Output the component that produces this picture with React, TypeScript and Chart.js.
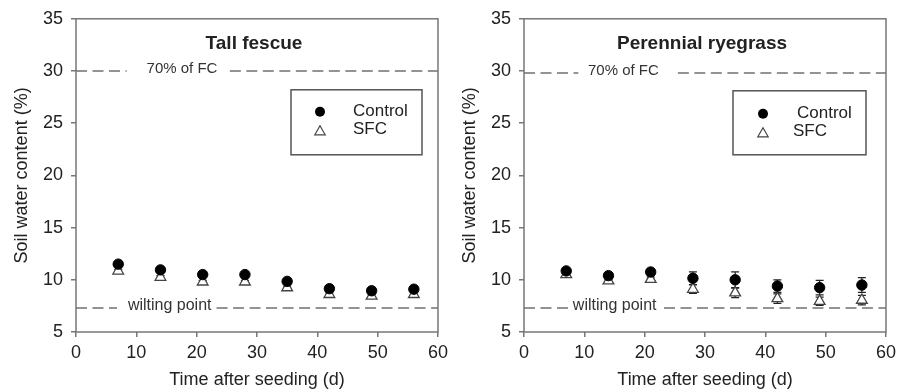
import React, { useEffect, useRef } from "react";
import { Chart, registerables } from "chart.js";

Chart.register(...registerables);

// ---------- data ----------
const days = [7, 14, 21, 28, 35, 42, 49, 56];

const fescueControl = [11.5, 10.95, 10.5, 10.5, 9.85, 9.15, 8.95, 9.1];
const fescueControlErr = [0.25, 0.25, 0.2, 0.2, 0.2, 0.25, 0.2, 0.2];
const fescueSfc = [10.85, 10.25, 9.8, 9.8, 9.25, 8.6, 8.45, 8.6];
const fescueSfcErr = [0.15, 0.15, 0.15, 0.15, 0.15, 0.15, 0.15, 0.15];

const ryeControl = [10.85, 10.4, 10.75, 10.15, 10.0, 9.4, 9.25, 9.5];
const ryeControlErr = [0.15, 0.2, 0.3, 0.6, 0.75, 0.6, 0.7, 0.7];
const ryeSfc = [10.5, 9.9, 10.05, 9.1, 8.75, 8.2, 7.95, 8.05];
const ryeSfcErr = [0.1, 0.15, 0.2, 0.4, 0.45, 0.45, 0.4, 0.45];

const seriesLabels = ["Control", "SFC"];
const panelTitles = ["Tall fescue", "Perennial ryegrass"];
const xTitle = "Time after seeding (d)";
const yTitle = "Soil water content (%)";
const xRange = [0, 60];
const xStep = 10;
const yRange = [5, 35];
const yStep = 5;

const fcLabel = "70% of FC";
const fcLevels = [30, 29.8];
const wpLabel = "wilting point";
const wpLevels = [7.3, 7.3];

// ---------- layout / style per panel ----------
const FONT = "'Liberation Sans', Arial, Helvetica, sans-serif";
const TEXT = "#222";
const AXIS = "#777";

const panels = [
  {
    title: panelTitles[0],
    control: fescueControl,
    controlErr: fescueControlErr,
    sfc: fescueSfc,
    sfcErr: fescueSfcErr,
    left: 0,
    width: 453,
    yAxisWidth: 76,
    padRight: 14,
    yTitlePad: 11,
    titleDx: -3,
    refLines: [
      { value: fcLevels[0], label: fcLabel, gapFrom: 8.4, gapTo: 25.5, labelX: 11.7, size: 15 },
      { value: wpLevels[0], label: wpLabel, gapFrom: 6.8, gapTo: 23.3, labelX: 8.6, size: 16 },
    ],
    legend: { bx: 215, by: 71, bw: 131, bh: 65, mx: 29, tx: [62, 62], ry: [22, 41], ty: [22, 40] },
  },
  {
    title: panelTitles[1],
    control: ryeControl,
    controlErr: ryeControlErr,
    sfc: ryeSfc,
    sfcErr: ryeSfcErr,
    left: 453,
    width: 453,
    yAxisWidth: 71,
    padRight: 20,
    yTitlePad: 6,
    titleDx: -3,
    refLines: [
      { value: fcLevels[1], label: fcLabel, gapFrom: 9.0, gapTo: 25.5, labelX: 10.6, size: 15 },
      { value: wpLevels[1], label: wpLabel, gapFrom: 7.3, gapTo: 23.2, labelX: 8.1, size: 16 },
    ],
    legend: { bx: 209, by: 72, bw: 133, bh: 64, mx: 30, tx: [64, 60], ry: [23, 42], ty: [23, 41] },
  },
];

function drawTriangle(ctx: CanvasRenderingContext2D, x: number, y: number, r: number) {
  const a = (2 * Math.PI) / 3;
  ctx.beginPath();
  ctx.moveTo(x, y - r);
  ctx.lineTo(x + Math.sin(a) * r, y - Math.cos(a) * r);
  ctx.lineTo(x + Math.sin(2 * a) * r, y - Math.cos(2 * a) * r);
  ctx.closePath();
}

const decorPlugin = {
  id: "decor",
  beforeDatasetsDraw(chart: any, _args: any, opts: any) {
    const { ctx, scales } = chart;
    const xs = scales.x;
    const ys = scales.y;
    ctx.save();
    // reference lines
    ctx.strokeStyle = "#707070";
    ctx.lineWidth = 1.5;
    ctx.setLineDash([11, 5.5]);
    for (const r of opts.refLines) {
      const py = ys.getPixelForValue(r.value);
      const segs = [
        [xs.min, r.gapFrom],
        [r.gapTo, xs.max],
      ];
      for (const s of segs) {
        ctx.beginPath();
        ctx.moveTo(xs.getPixelForValue(s[0]), py);
        ctx.lineTo(xs.getPixelForValue(s[1]), py);
        ctx.stroke();
      }
    }
    ctx.setLineDash([]);
    ctx.fillStyle = "#333";
    ctx.textBaseline = "middle";
    ctx.textAlign = "left";
    for (const r of opts.refLines) {
      ctx.font = `${r.size}px ${FONT}`;
      ctx.fillText(r.label, xs.getPixelForValue(r.labelX), ys.getPixelForValue(r.value) - 2);
    }
    // error bars
    ctx.strokeStyle = "#222";
    ctx.lineWidth = 1.2;
    chart.data.datasets.forEach((ds: any) => {
      const errs: number[] = ds.errors || [];
      ds.data.forEach((p: any, j: number) => {
        const e = errs[j];
        if (!e) return;
        const px = xs.getPixelForValue(p.x);
        const top = ys.getPixelForValue(p.y + e);
        const bot = ys.getPixelForValue(p.y - e);
        ctx.beginPath();
        ctx.moveTo(px, top);
        ctx.lineTo(px, bot);
        ctx.moveTo(px - 4, top);
        ctx.lineTo(px + 4, top);
        ctx.moveTo(px - 4, bot);
        ctx.lineTo(px + 4, bot);
        ctx.stroke();
      });
    });
    ctx.restore();
  },
  afterDatasetsDraw(chart: any, _args: any, opts: any) {
    const { ctx, chartArea: ca } = chart;
    ctx.save();
    // frame
    ctx.strokeStyle = AXIS;
    ctx.lineWidth = 1.5;
    ctx.strokeRect(ca.left, ca.top, ca.right - ca.left, ca.bottom - ca.top);
    // title
    ctx.fillStyle = TEXT;
    ctx.font = `bold 19px ${FONT}`;
    ctx.textAlign = "center";
    ctx.textBaseline = "middle";
    ctx.fillText(opts.title, (ca.left + ca.right) / 2 + opts.titleDx, ca.top + 25);
    // legend
    const L = opts.legend;
    const bx = ca.left + L.bx;
    const by = ca.top + L.by;
    ctx.strokeStyle = "#555";
    ctx.lineWidth = 1.5;
    ctx.strokeRect(bx, by, L.bw, L.bh);
    const dss = chart.data.datasets;
    ctx.fillStyle = "#000";
    ctx.beginPath();
    ctx.arc(bx + L.mx, by + L.ry[0], 5, 0, Math.PI * 2);
    ctx.fill();
    ctx.fillStyle = "#fff";
    ctx.strokeStyle = "#444";
    ctx.lineWidth = 1.2;
    drawTriangle(ctx, bx + L.mx, by + L.ry[1] + 1, 6);
    ctx.fill();
    ctx.stroke();
    ctx.fillStyle = TEXT;
    ctx.font = `17px ${FONT}`;
    ctx.textAlign = "left";
    ctx.textBaseline = "middle";
    ctx.fillText(dss[0].label, bx + L.tx[0], by + L.ty[0]);
    ctx.fillText(dss[1].label, bx + L.tx[1], by + L.ty[1]);
    ctx.restore();
  },
};

function Panel({ cfg }: { cfg: (typeof panels)[number] }) {
  const ref = useRef<HTMLCanvasElement | null>(null);
  useEffect(() => {
    if (!ref.current) return;
    const chart = new Chart(ref.current, {
      type: "scatter",
      data: {
        datasets: [
          {
            label: seriesLabels[0],
            data: days.map((d, i) => ({ x: d, y: cfg.control[i] })),
            errors: cfg.controlErr,
            pointStyle: "circle",
            pointRadius: 5.2,
            pointBackgroundColor: "#000",
            pointBorderColor: "#000",
            pointBorderWidth: 1,
            showLine: false,
            order: 0,
          } as any,
          {
            label: seriesLabels[1],
            data: days.map((d, i) => ({ x: d, y: cfg.sfc[i] })),
            errors: cfg.sfcErr,
            pointStyle: "triangle",
            pointRadius: 6.2,
            pointBackgroundColor: "#fff",
            pointBorderColor: "#444",
            pointBorderWidth: 1.3,
            showLine: false,
            order: 1,
          } as any,
        ],
      },
      options: {
        animation: false,
        responsive: false,
        events: [],
        layout: { padding: { left: 0, right: cfg.padRight, top: 17, bottom: 0 } },
        plugins: {
          legend: { display: false },
          tooltip: { enabled: false },
          decor: {
            title: cfg.title,
            titleDx: cfg.titleDx,
            refLines: cfg.refLines,
            legend: cfg.legend,
          },
        } as any,
        scales: {
          x: {
            type: "linear",
            min: xRange[0],
            max: xRange[1],
            afterFit: (s: any) => {
              s.height = 60;
            },
            ticks: {
              stepSize: xStep,
              color: TEXT,
              font: { family: FONT, size: 18 },
              padding: 5,
              maxRotation: 0,
            },
            grid: {
              drawOnChartArea: false,
              drawTicks: true,
              tickLength: 5,
              color: AXIS,
              lineWidth: 1.5,
            },
            border: { display: false },
            title: {
              display: true,
              text: xTitle,
              color: TEXT,
              font: { family: FONT, size: 18 },
              padding: { top: 0, bottom: 1 },
            },
          },
          y: {
            type: "linear",
            min: yRange[0],
            max: yRange[1],
            afterFit: (s: any) => {
              s.width = cfg.yAxisWidth;
            },
            ticks: {
              stepSize: yStep,
              color: TEXT,
              font: { family: FONT, size: 18 },
              padding: 8,
            },
            grid: {
              drawOnChartArea: false,
              drawTicks: true,
              tickLength: 5,
              color: AXIS,
              lineWidth: 1.5,
            },
            border: { display: false },
            title: {
              display: true,
              text: yTitle,
              color: TEXT,
              font: { family: FONT, size: 18 },
              padding: { top: cfg.yTitlePad, bottom: 0 },
            },
          },
        },
      },
      plugins: [decorPlugin as any],
    });
    return () => chart.destroy();
  }, [cfg]);
  return (
    <canvas
      ref={ref}
      width={cfg.width}
      height={392}
      style={{ position: "absolute", left: cfg.left, top: 0, width: cfg.width, height: 392 }}
    />
  );
}

export default function App() {
  return (
    <div
      style={{
        position: "fixed",
        left: 0,
        top: 0,
        width: 906,
        height: 392,
        background: "#fff",
        overflow: "hidden",
      }}
    >
      {panels.map((p, i) => (
        <Panel key={i} cfg={p} />
      ))}
    </div>
  );
}
